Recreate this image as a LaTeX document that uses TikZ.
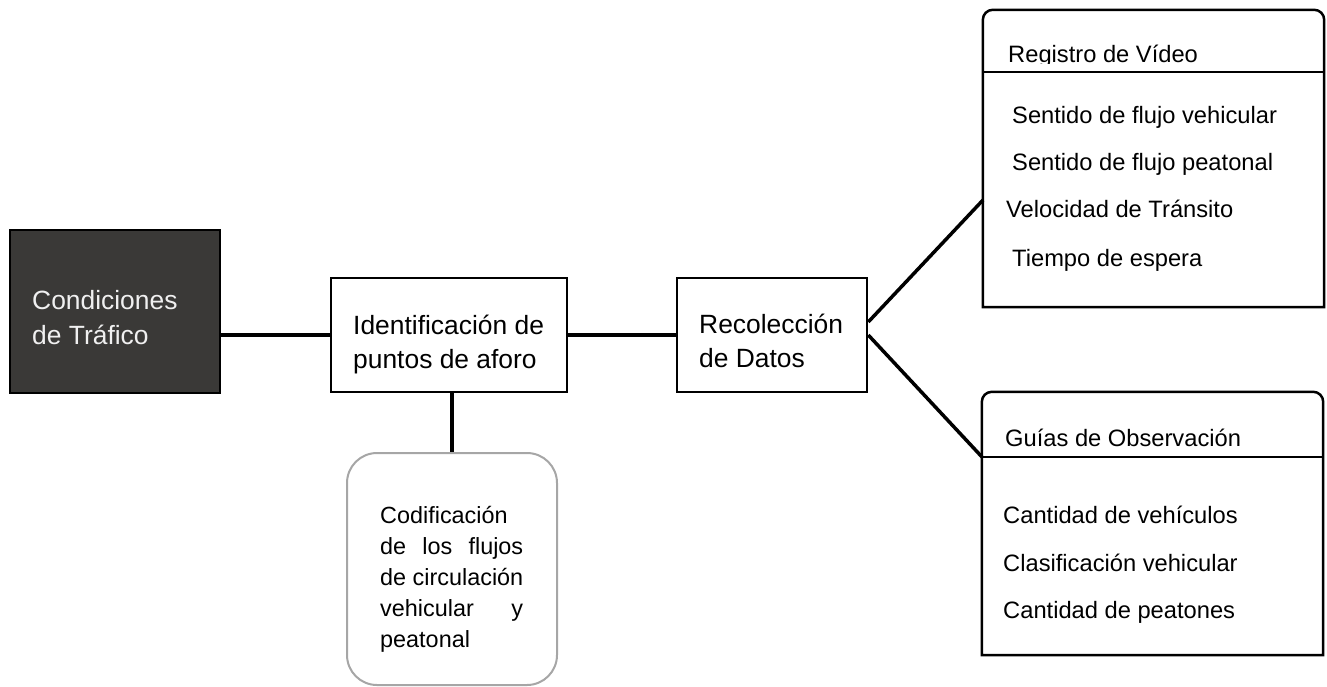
\documentclass[tikz,border=0pt]{standalone}
\usepackage{fontspec}
\setmainfont{Liberation Sans}
\usetikzlibrary{calc}
\definecolor{darkbox}{HTML}{3A3937}
\definecolor{greyline}{HTML}{A6A6A6}
\tikzset{
  box/.style={draw=black, line width=2.5pt, rectangle, inner sep=0pt},
  boxline/.style={draw=black, line width=2.5pt},
  frame/.style={rectangle, inner sep=0pt, draw=none},
  conn/.style={line width=3.5pt, black},
  bigtxt/.style={font=\fontsize{26.4}{35}\selectfont, anchor=base west, inner sep=0pt},
  itemtxt/.style={font=\fontsize{23.7}{28}\selectfont, anchor=base west, inner sep=0pt},
  codtxt/.style={font=\fontsize{23.4}{28}\selectfont, anchor=base west, inner sep=0pt},
  codjust/.style={codtxt, text width=143pt, align=left},
}
\begin{document}
\begin{tikzpicture}[x=1pt,y=-1pt]
\useasboundingbox (0,0) rectangle (1327,686);

% main boxes
\node[box, fill=darkbox, minimum width=210pt, minimum height=163pt] (cond) at (115,311.5) {};
\node[bigtxt, text=white!94!black] (cond1) at (32,309) {Condiciones};
\node[bigtxt, text=white!94!black] (cond2) at (32,344) {de Tráfico};

\node[box, minimum width=236pt, minimum height=114pt] (ident) at (449,335) {};
\node[bigtxt] (ident1) at (353,334) {Identificación de};
\node[bigtxt] (ident2) at (353,368) {puntos de aforo};

\node[box, minimum width=190pt, minimum height=114pt] (rec) at (772,335) {};
\node[bigtxt] (rec1) at (699,333) {Recolección};
\node[bigtxt] (rec2) at (699,367) {de Datos};

% coding box
\node[rectangle, draw=greyline, line width=2pt, rounded corners=30pt,
      minimum width=210pt, minimum height=232pt] (codif) at (452,569) {};
\node[codtxt] (c1) at (380,523) {Codificación};
\node[codjust] (c2) at (380,554) {de\hfill los\hfill flujos};
\node[codtxt] (c3) at (380,585) {de circulación};
\node[codjust] (c4) at (380,616) {vehicular\hfill y};
\node[codtxt] (c5) at (380,647) {peatonal};

% Registro de Video box
\node[frame, minimum width=341pt, minimum height=297pt] (reg) at (1153.5,158.5) {};
\draw[boxline] (reg.south west) -- ([yshift=-10pt]reg.north west)
  arc[start angle=180, end angle=90, radius=10pt]
  -- ([xshift=-10pt]reg.north east)
  arc[start angle=90, end angle=0, radius=10pt]
  -- (reg.south east) -- cycle;
\coordinate (regdivL) at (983,72);
\coordinate (regdivR) at (1324,72);
\draw[boxline] (regdivL) -- (regdivR);
\begin{scope}
  \clip (983,10) rectangle (1324,63);
  \node[itemtxt] (regh) at (1008,62) {Registro de Vídeo};
\end{scope}
\node[itemtxt] (r1) at (1012,123) {Sentido de flujo vehicular};
\node[itemtxt] (r2) at (1012,170) {Sentido de flujo peatonal};
\node[itemtxt] (r3) at (1006,217) {Velocidad de Tránsito};
\node[itemtxt] (r4) at (1012,266) {Tiempo de espera};

% Guias de Observacion box
\node[frame, minimum width=341pt, minimum height=263pt] (gui) at (1152.5,523.5) {};
\draw[boxline] (gui.south west) -- ([yshift=-10pt]gui.north west)
  arc[start angle=180, end angle=90, radius=10pt]
  -- ([xshift=-10pt]gui.north east)
  arc[start angle=90, end angle=0, radius=10pt]
  -- (gui.south east) -- cycle;
\coordinate (guidivL) at (982,457);
\coordinate (guidivR) at (1323,457);
\draw[boxline] (guidivL) -- (guidivR);
\node[itemtxt] (gh) at (1005,446) {Guías de Observación};
\node[itemtxt] (g1) at (1003,523) {Cantidad de vehículos};
\node[itemtxt] (g2) at (1003,571) {Clasificación vehicular};
\node[itemtxt] (g3) at (1003,618) {Cantidad de peatones};

% connectors
\coordinate (regin) at (983,200);
\draw[conn] (cond.east |- ident.west) -- (ident.west);
\draw[conn] (ident.east) -- (rec.west);
\draw[conn] (ident.south -| codif.north) -- (codif.north);
\draw[conn] ([yshift=13pt]rec.east) -- (regin);
\draw[conn] (rec.east) -- (guidivL);
\end{tikzpicture}
\end{document}
